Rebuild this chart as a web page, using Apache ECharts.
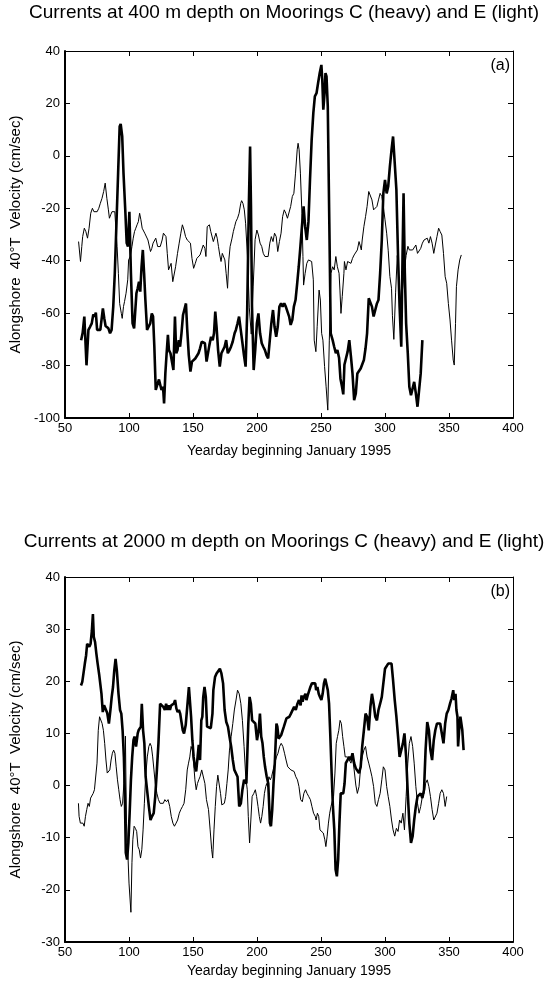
<!DOCTYPE html>
<html>
<head>
<meta charset="utf-8">
<script src="https://cdn.jsdelivr.net/npm/echarts@6/dist/echarts.min.js"></script>
<style>
  html, body { margin: 0; padding: 0; background: #fff; }
  #chart { width: 546px; height: 981px; }
</style>
</head>
<body>
<div id="chart"></div>
<script>
// Yearday axis shared by both panels
const dayMin = 50, dayMax = 400, dayStep = 50;

// Panel (a): 400 m depth, alongshore 40°T velocity (cm/sec), [yearday, value]
const moorC400 = [
  [62.6,-70.3],[63.8,-67.5],[65.1,-61.3],[65.8,-60.8],[66.8,-79.9],[68.3,-66.4],[69.6,-65.2],[70.9,-63.9],
  [72.1,-60.5],[73.1,-61.3],[74.1,-59.8],[75.1,-66.4],[76.4,-67.1],[77.6,-66.4],[78.9,-67.1],[79.6,-58.2],
  [80.7,-62.0],[81.7,-64.9],[82.7,-64.5],[83.9,-65.8],[85.2,-67.7],[86.4,-66.4],[87.7,-57.5],[88.9,-44.8],
  [90.2,-25.7],[91.5,-6.6],[92.7,11.2],[93.5,12.2],[94.7,7.4],[95.7,-6.6],[97.2,-21.9],[98.2,-33.3],
  [99.2,-34.6],[100.3,-21.3],[101.5,-44.8],[102.8,-63.9],[104.0,-65.8],[104.8,-65.2],[105.8,-52.4],[106.8,-50.5],
  [107.8,-48.0],[108.8,-51.8],[109.8,-42.3],[110.8,-35.9],[111.8,-44.8],[112.8,-55.0],[114.1,-66.4],[115.3,-65.2],
  [116.6,-63.9],[117.8,-60.1],[118.8,-61.3],[119.8,-72.8],[120.9,-89.3],[122.4,-89.3],[123.4,-85.3],[124.4,-85.3],
  [125.4,-89.3],[126.6,-88.1],[127.4,-94.4],[128.4,-83.0],[129.4,-75.3],[130.4,-68.3],[131.2,-74.1],[132.4,-75.3],
  [133.4,-74.7],[134.7,-81.7],[135.9,-61.3],[136.9,-75.3],[137.9,-74.1],[138.9,-70.3],[139.9,-72.8],[141.0,-67.7],
  [142.2,-60.7],[143.5,-60.1],[144.5,-56.3],[145.5,-66.4],[146.7,-76.0],[148.0,-82.3],[149.2,-78.5],[150.5,-78.5],
  [151.8,-77.3],[153.0,-76.6],[154.3,-75.3],[155.5,-73.4],[156.8,-70.9],[158.0,-70.6],[159.3,-71.5],[160.6,-78.5],
  [162.8,-72.2],[164.1,-69.0],[165.4,-70.3],[166.4,-67.7],[167.4,-59.4],[168.4,-65.2],[169.6,-74.1],[170.9,-80.4],
  [172.2,-75.3],[173.4,-74.7],[174.7,-72.8],[175.9,-70.3],[177.2,-75.3],[178.5,-74.1],[179.7,-72.8],[181.0,-70.9],
  [182.5,-67.7],[183.5,-66.4],[184.8,-63.9],[186.0,-61.3],[187.3,-66.4],[188.5,-70.9],[189.8,-76.0],[191.1,-80.4],
  [192.3,-60.1],[193.6,-19.3],[194.6,3.6],[195.3,-19.3],[196.1,-57.5],[197.4,-81.7],[198.6,-74.1],[199.9,-63.9],
  [201.1,-60.1],[202.4,-67.7],[203.7,-71.5],[204.9,-72.8],[206.2,-74.1],[207.4,-76.0],[208.7,-77.3],[210.0,-70.3],
  [211.2,-63.9],[212.5,-58.8],[213.7,-65.2],[215.0,-69.0],[216.2,-65.2],[217.5,-57.5],[218.8,-56.3],[220.0,-57.5],
  [221.3,-56.3],[222.5,-57.5],[223.8,-58.2],[225.1,-61.3],[226.3,-64.5],[227.6,-62.6],[228.8,-57.5],[230.1,-55.0],
  [231.4,-48.6],[232.6,-42.3],[233.9,-34.6],[235.1,-27.0],[236.4,-19.3],[237.6,-27.0],[238.9,-32.1],[240.2,-25.1],
  [241.4,-9.2],[242.7,6.1],[244.0,16.3],[245.2,22.7],[246.5,23.9],[247.7,27.7],[249.0,31.6],[250.3,34.7],
  [251.0,29.0],[251.8,17.6],[252.8,23.9],[253.5,31.6],[254.3,30.3],[255.3,18.8],[256.5,-25.7],[257.6,-67.7],
  [259.1,-70.3],[260.3,-72.8],[261.6,-75.3],[262.8,-74.1],[264.1,-77.0],[265.2,-85.0],[266.4,-88.0],[267.4,-91.0],
  [268.3,-79.7],[269.5,-79.2],[270.8,-74.7],[272.1,-70.3],[273.4,-76.6],[274.6,-83.0],[275.9,-93.2],[277.2,-90.6],
  [278.4,-83.0],[279.7,-83.6],[281.0,-81.1],[282.2,-81.7],[283.5,-77.9],[284.8,-73.4],[286.0,-67.7],[287.3,-54.3],
  [288.6,-53.7],[289.8,-57.5],[291.1,-61.3],[292.4,-58.8],[293.7,-56.3],[294.9,-55.0],[296.2,-44.8],[297.5,-32.1],
  [298.7,-14.3],[300.0,-9.2],[301.3,-14.3],[302.5,-11.7],[303.8,-4.1],[305.1,2.3],[306.3,7.4],[307.6,6.7],
  [308.9,-13.0],[310.2,-38.4],[311.4,-57.5],[312.7,-72.8],[313.7,-38.4],[314.5,-14.3],[315.5,-44.8],[316.5,-63.9],
  [317.8,-75.3],[319.0,-88.1],[320.3,-91.3],[321.6,-91.9],[322.8,-86.2],[324.1,-90.6],[325.4,-95.7],[326.6,-95.1],
  [327.9,-83.0],[329.2,-70.3]
];
const moorE400 = [
  [60.6,-32.7],[62.1,-40.3],[63.1,-34.6],[63.8,-30.8],[65.1,-27.6],[66.3,-28.9],[67.6,-31.4],[68.8,-27.6],
  [70.1,-21.9],[71.4,-20.0],[72.6,-21.3],[73.9,-20.6],[75.1,-21.3],[76.4,-20.0],[77.6,-18.1],[78.9,-16.2],
  [80.2,-13.6],[81.4,-10.4],[82.7,-16.2],[83.9,-20.6],[84.7,-23.8],[85.7,-22.5],[86.7,-21.3],[87.7,-21.9],
  [88.9,-21.3],[89.7,-21.9],[90.7,-34.6],[91.7,-44.8],[92.7,-56.3],[94.0,-60.1],[94.7,-62.0],[95.7,-57.5],
  [96.5,-55.6],[97.7,-52.4],[99.0,-47.3],[99.7,-39.7],[101.0,-38.4],[102.3,-34.6],[103.3,-31.4],[104.3,-28.9],
  [105.3,-27.6],[106.3,-26.3],[107.3,-25.1],[108.3,-21.9],[109.3,-24.4],[110.3,-27.6],[111.6,-27.0],[112.3,-29.5],
  [113.3,-30.2],[114.8,-32.1],[115.8,-31.4],[116.8,-36.5],[117.8,-35.3],[118.8,-33.3],[119.8,-32.7],[120.9,-31.4],
  [122.4,-34.6],[123.4,-34.0],[124.4,-34.6],[125.9,-32.1],[126.9,-29.5],[127.9,-28.9],[128.9,-30.8],[129.9,-37.2],
  [130.9,-43.5],[131.9,-43.5],[132.9,-41.0],[134.2,-48.0],[135.4,-47.3],[136.4,-42.3],[137.9,-37.2],[139.2,-33.3],
  [140.5,-29.5],[141.7,-26.3],[143.0,-28.3],[144.2,-30.8],[145.5,-32.1],[146.7,-31.4],[148.0,-33.3],[149.2,-39.1],
  [150.5,-42.9],[151.8,-41.0],[153.0,-39.1],[154.3,-38.4],[155.5,-37.8],[156.8,-37.2],[158.0,-34.0],[159.3,-35.3],
  [160.1,-38.4],[161.1,-27.0],[162.8,-26.3],[163.9,-28.9],[164.9,-29.5],[165.9,-32.7],[166.9,-33.3],[167.9,-29.5],
  [168.9,-31.4],[169.9,-34.6],[170.9,-37.8],[171.9,-40.3],[172.9,-37.2],[173.9,-37.2],[174.9,-39.7],[175.9,-44.8],
  [177.0,-50.5],[178.0,-39.7],[179.0,-34.6],[180.5,-31.4],[181.5,-28.9],[182.5,-27.0],[183.5,-25.1],[184.8,-23.8],
  [186.0,-21.9],[187.3,-18.1],[188.0,-17.1],[189.0,-18.1],[190.1,-20.6],[191.1,-25.7],[192.5,-38.0],[194.0,-58.0],
  [195.5,-68.0],[197.0,-50.0],[198.5,-32.0],[199.9,-28.3],[201.1,-30.2],[202.4,-33.3],[203.7,-34.6],[204.9,-37.2],
  [206.2,-38.4],[207.4,-38.4],[208.7,-38.4],[210.0,-33.3],[211.2,-30.8],[212.5,-32.7],[213.7,-29.5],[215.0,-30.8],
  [216.2,-36.5],[217.5,-32.7],[218.8,-29.5],[220.0,-23.2],[221.3,-20.6],[222.5,-21.9],[223.8,-23.8],[225.1,-23.2],
  [226.3,-19.3],[227.6,-15.5],[228.8,-14.3],[230.1,-6.6],[231.4,2.3],[232.1,4.8],[232.9,2.3],[233.9,-6.6],
  [235.1,-21.9],[235.9,-38.4],[236.4,-49.3],[237.6,-44.8],[238.9,-41.0],[240.2,-39.7],[241.4,-39.1],[242.7,-40.3],
  [244.0,-47.3],[244.7,-70.3],[246.0,-74.7],[247.0,-65.2],[248.5,-51.2],[249.5,-55.0],[250.5,-67.7],[251.5,-70.3],
  [252.8,-80.4],[254.0,-88.1],[255.3,-97.0],[256.5,-70.3],[257.8,-44.8],[259.1,-42.3],[260.3,-43.5],[261.6,-38.4],
  [262.8,-42.3],[264.1,-44.8],[264.8,-51.2],[265.6,-60.1],[266.6,-53.7],[267.9,-44.8],[268.3,-40.3],[269.5,-43.5],
  [270.8,-40.3],[272.1,-39.7],[273.4,-41.0],[274.6,-39.1],[275.9,-37.8],[277.2,-37.2],[278.4,-35.9],[279.7,-32.7],
  [280.5,-34.0],[281.5,-35.9],[282.2,-32.1],[283.5,-27.0],[284.8,-23.2],[286.0,-19.3],[287.3,-13.6],[288.6,-13.0],
  [289.8,-16.8],[291.1,-20.6],[292.4,-21.3],[293.7,-19.3],[294.9,-16.8],[296.2,-14.3],[297.5,-15.5],[298.7,-19.3],
  [300.0,-24.4],[301.3,-29.5],[302.5,-36.0],[303.8,-46.0],[305.1,-50.5],[305.8,-61.0],[306.9,-70.0],[308.3,-52.0],
  [309.6,-38.0],[310.9,-48.0],[312.2,-56.0],[313.5,-52.0],[315.0,-44.0],[316.5,-38.0],[317.9,-34.5],[319.0,-35.9],
  [320.3,-35.3],[321.6,-35.9],[322.8,-35.3],[324.1,-34.0],[325.4,-37.2],[326.6,-37.8],[327.9,-35.3],[329.2,-33.3],
  [330.5,-32.1],[331.7,-32.7],[333.0,-31.4],[334.3,-33.3],[335.5,-30.8],[336.8,-33.3],[338.1,-37.2],[339.3,-34.0],
  [340.6,-30.8],[341.9,-27.6],[343.1,-28.9],[344.4,-30.2],[345.7,-37.2],[347.0,-46.1],[348.2,-48.6],[349.5,-56.3],
  [350.8,-62.6],[352.0,-70.3],[353.3,-77.9],[354.1,-79.8],[355.1,-63.9],[355.8,-49.9],[357.1,-43.5],[358.4,-39.7],
  [359.6,-37.8]
];

// Panel (b): 2000 m depth, [yearday, value]
const moorC2000 = [
  [62.5,19.2],[63.5,19.9],[64.5,20.2],[65.5,23.4],[66.5,25.0],[67.3,27.2],[68.0,26.9],[69.0,26.6],
  [70.0,27.2],[71.0,29.7],[71.8,32.9],[72.5,28.5],[73.5,27.5],[74.5,25.3],[75.5,23.4],[76.8,21.1],
  [77.5,20.8],[78.5,17.6],[79.5,14.1],[80.5,15.4],[81.8,15.1],[83.0,13.9],[84.3,11.9],[85.5,14.5],
  [86.5,17.0],[87.5,18.9],[88.5,22.1],[89.5,24.3],[90.5,22.1],[91.8,17.6],[93.0,14.5],[94.0,13.8],
  [95.0,10.6],[96.0,5.5],[96.8,-2.1],[97.5,-12.9],[98.5,-14.2],[99.5,-11.0],[100.5,-5.3],[101.5,1.1],
  [102.5,5.5],[103.5,8.7],[104.3,9.4],[105.5,7.5],[106.8,10.0],[107.5,10.6],[108.5,10.3],[109.3,11.3],
  [110.0,15.7],[111.0,10.6],[112.0,8.1],[113.0,1.7],[114.3,2.0],[115.5,-4.0],[116.8,-6.6],[118.0,-5.9],
  [119.3,-5.3],[120.5,-2.1],[121.8,3.0],[123.0,8.1],[124.3,15.7],[125.5,15.7],[126.8,15.1],[128.0,14.5],
  [129.0,15.7],[130.0,14.5],[131.0,15.4],[132.0,14.5],[133.0,15.4],[134.0,15.1],[135.0,15.7],[136.0,16.4],
  [137.0,14.8],[138.0,14.1],[139.0,14.5],[140.0,13.8],[141.0,12.2],[142.0,10.6],[143.0,10.0],[144.3,11.6],
  [145.5,11.9],[146.8,18.9],[147.5,18.6],[148.5,13.2],[149.5,8.7],[150.5,5.5],[151.5,3.6],[152.5,2.7],
  [153.5,3.0],[154.5,7.8],[155.5,4.9],[156.5,12.5],[157.3,13.2],[158.0,17.0],[159.0,18.9],[160.0,17.0],
  [161.0,11.3],[162.0,11.3],[163.9,11.0],[165.2,13.8],[165.9,18.3],[167.2,20.8],[168.4,21.5],[169.7,21.8],
  [171.0,22.4],[172.2,21.5],[173.5,19.6],[174.7,14.5],[176.0,12.2],[177.3,11.3],[178.5,9.4],[179.8,7.5],
  [181.1,4.9],[182.3,3.0],[183.6,3.0],[184.8,1.7],[186.1,-4.0],[187.4,-3.4],[188.6,-0.8],[189.9,1.1],
  [190.7,1.4],[191.7,0.4],[193.2,11.9],[194.2,17.0],[195.2,15.7],[196.2,12.5],[197.5,12.2],[198.7,11.9],
  [200.0,8.7],[201.3,10.6],[202.3,13.8],[203.3,9.4],[204.3,8.1],[205.3,5.5],[206.3,3.6],[207.6,1.7],
  [208.8,0.4],[210.1,-7.2],[210.9,-7.8],[211.9,-4.6],[212.9,0.4],[213.9,4.3],[215.2,11.9],[215.9,11.3],
  [216.9,9.0],[217.9,8.7],[218.9,9.7],[219.9,9.4],[221.0,11.3],[222.0,11.0],[223.0,12.9],[224.0,13.2],
  [225.3,13.2],[226.5,13.8],[227.8,14.1],[229.0,15.1],[230.3,14.5],[231.6,15.7],[232.8,16.4],[234.1,15.4],
  [234.8,17.3],[235.6,16.1],[236.6,17.0],[237.9,17.6],[238.6,16.4],[239.6,17.3],[240.7,17.6],[241.7,18.9],
  [242.9,19.6],[244.2,19.9],[245.5,19.6],[246.2,18.3],[247.2,18.9],[248.2,17.6],[249.2,17.0],[250.3,16.4],
  [251.3,17.6],[252.3,19.6],[253.3,20.5],[254.3,20.2],[255.3,18.3],[256.3,15.7],[257.3,9.4],[258.3,2.4],
  [259.3,-4.0],[260.4,-8.5],[261.4,-16.1],[262.4,-17.4],[263.4,-14.2],[264.4,-7.2],[265.4,-1.5],[266.4,-1.8],
  [267.4,-1.5],[268.4,0.4],[269.4,4.3],[270.8,4.3],[272.1,5.5],[273.4,4.9],[274.6,6.2],[275.9,4.3],
  [277.2,3.3],[278.4,3.0],[279.7,2.4],[281.0,3.6],[282.2,7.5],[283.5,10.6],[284.8,13.8],[286.0,13.2],
  [287.3,10.6],[288.6,15.1],[289.8,17.6],[291.1,15.7],[292.4,13.2],[293.7,12.5],[294.9,14.5],[296.2,15.7],
  [297.5,17.0],[298.7,17.0],[300.0,22.4],[301.3,22.7],[302.5,23.4],[303.8,23.7],[305.1,23.4],[306.3,20.2],
  [307.6,16.4],[308.9,13.2],[310.2,9.4],[311.4,5.5],[312.7,5.5],[314.0,8.1],[315.2,10.0],[316.5,5.5],
  [317.8,-1.5],[319.0,-7.2],[320.3,-11.0],[321.6,-9.7],[322.8,-6.6],[324.1,-4.0],[325.4,-2.1],[326.6,-2.1],
  [327.9,-1.5],[329.2,-2.4],[330.5,-0.8],[331.7,6.8],[333.0,12.2],[334.3,10.6],[335.5,6.8],[336.8,4.9],
  [338.1,8.7],[339.3,10.6],[340.6,11.9],[341.9,12.2],[343.1,11.9],[344.4,10.0],[345.7,8.1],[347.0,11.9],
  [348.2,13.8],[349.5,14.5],[350.8,15.7],[352.0,16.7],[353.3,18.3],[354.1,16.4],[355.1,17.6],[355.8,14.5],
  [356.6,13.2],[357.1,7.5],[357.9,10.6],[358.9,13.2],[359.6,13.5],[360.4,10.6],[361.4,6.8]
];
const moorE2000 = [
  [60.5,-3.4],[61.0,-5.9],[62.0,-7.2],[63.0,-6.9],[64.0,-7.2],[65.0,-7.8],[66.0,-5.9],[67.0,-4.6],
  [68.0,-3.4],[69.0,-4.0],[70.0,-2.4],[71.0,-2.1],[72.0,-1.5],[73.0,-0.8],[74.0,-0.8],[75.0,4.3],
  [76.0,10.6],[77.0,13.2],[78.0,12.9],[79.0,11.9],[80.0,10.6],[81.0,8.1],[82.0,4.9],[83.0,2.4],
  [84.0,2.4],[85.0,3.0],[86.0,4.9],[87.0,6.2],[88.0,6.8],[89.0,6.2],[90.0,3.6],[91.0,1.1],
  [92.0,-0.8],[93.0,-2.7],[94.0,-4.0],[95.0,-3.4],[96.0,0.4],[96.8,4.3],[97.2,9.5],[98.0,-7.2],
  [99.0,-12.3],[100.0,-18.7],[101.5,-24.3],[102.3,-14.8],[103.0,-10.4],[104.0,-7.8],[105.0,-8.2],[106.0,-8.8],
  [107.0,-11.7],[108.0,-12.3],[109.0,-13.9],[110.0,-12.3],[111.0,-8.5],[112.0,-3.4],[113.0,1.7],[114.3,5.5],
  [115.5,7.5],[116.5,8.1],[117.5,7.5],[118.5,5.5],[119.5,3.0],[120.5,0.4],[121.8,-1.5],[123.0,-2.7],
  [124.3,-3.4],[125.5,-3.4],[126.8,-3.4],[128.0,-2.7],[129.3,-3.1],[130.5,-2.7],[131.8,-4.0],[133.0,-5.9],
  [134.3,-7.2],[135.5,-7.8],[136.8,-7.2],[138.0,-6.6],[139.3,-5.3],[140.5,-4.6],[141.8,-4.0],[143.0,-3.4],
  [144.3,-0.8],[145.5,3.0],[146.5,4.3],[147.5,5.5],[148.5,7.5],[149.5,6.8],[150.5,4.3],[151.5,1.1],
  [152.5,-0.8],[153.5,0.4],[154.5,1.1],[155.5,1.7],[156.8,3.0],[158.0,3.0],[159.3,0.4],[160.5,-2.7],
  [162.1,-4.6],[163.4,-8.5],[164.6,-12.3],[165.4,-13.9],[166.4,-8.5],[167.4,-4.0],[168.4,-0.2],[169.4,2.0],
  [170.5,1.7],[171.5,-1.5],[172.5,-3.7],[173.5,-4.0],[174.5,-3.4],[175.5,-2.1],[176.5,0.4],[177.5,3.0],
  [178.5,6.8],[179.8,9.4],[181.1,11.9],[182.3,14.5],[183.6,16.4],[184.8,18.3],[186.1,17.6],[187.4,15.7],
  [188.6,12.5],[189.9,7.5],[191.2,1.7],[192.4,-0.8],[193.2,-5.9],[194.2,-11.0],[195.2,-6.6],[196.2,-2.1],
  [197.5,-1.5],[198.7,-0.8],[199.7,-2.1],[200.8,-4.0],[201.8,-5.9],[202.8,-7.2],[203.8,-5.9],[204.8,-4.0],
  [205.8,-1.5],[206.8,-0.2],[207.6,0.4],[208.3,-0.2],[209.3,1.7],[210.4,1.1],[211.4,1.7],[212.6,3.0],
  [213.9,4.3],[215.2,5.5],[216.4,6.2],[217.7,7.5],[218.9,8.1],[220.2,7.5],[221.5,6.2],[222.7,4.9],
  [224.0,3.6],[225.3,3.6],[226.5,3.0],[227.8,3.3],[229.0,2.7],[230.3,1.7],[231.6,1.1],[232.8,-0.2],
  [234.1,-2.7],[235.4,-3.1],[236.6,-1.5],[237.9,-0.8],[239.1,-1.5],[240.4,-2.1],[241.7,-2.7],[242.9,-4.0],
  [244.2,-5.3],[245.5,-5.9],[246.2,-6.6],[247.2,-5.3],[248.2,-5.9],[249.2,-8.5],[250.5,-8.8],[251.8,-9.1],
  [253.0,-10.4],[253.8,-11.7],[254.8,-9.7],[255.8,-7.2],[256.8,-5.3],[257.8,-4.0],[258.8,-4.0],[259.8,-2.1],
  [260.9,2.4],[261.9,8.1],[262.9,9.4],[263.9,10.6],[264.9,12.5],[265.9,11.9],[266.9,9.4],[267.9,7.5],
  [268.9,5.5],[270.8,5.5],[272.1,4.9],[273.4,4.3],[274.6,5.5],[275.9,3.0],[277.2,0.1],[278.4,-1.5],
  [279.7,-0.2],[281.0,3.6],[282.2,5.5],[283.5,6.8],[284.8,7.5],[286.0,5.5],[287.3,4.3],[288.6,3.0],
  [289.8,1.7],[291.1,-0.2],[292.4,-3.4],[293.7,-4.0],[294.9,-2.7],[296.2,-1.5],[297.5,1.1],[298.7,3.6],
  [300.0,3.0],[301.3,-0.2],[302.5,-2.1],[303.8,-4.0],[305.1,-6.6],[306.3,-8.5],[307.6,-9.7],[308.9,-8.2],
  [310.2,-8.8],[311.4,-6.6],[312.7,-7.2],[314.0,-5.3],[315.2,-8.5],[316.5,-2.1],[317.8,4.3],[319.0,8.1],
  [320.3,9.4],[321.6,7.5],[322.8,4.3],[324.1,-0.2],[325.4,-3.4],[326.6,-5.3],[327.9,-4.0],[329.2,-2.1],
  [330.5,-1.5],[331.7,0.4],[333.0,1.1],[334.3,-0.2],[335.5,-2.1],[336.8,-4.6],[338.1,-6.6],[339.3,-6.6],
  [340.6,-5.3],[341.9,-3.4],[343.1,-1.5],[344.4,-0.8],[345.7,-1.5],[347.0,-4.0],[348.2,-2.1]
];

// Panel texts
const panelTitles = [
  'Currents at 400 m depth on Moorings C (heavy) and E (light)',
  'Currents at 2000 m depth on Moorings C (heavy) and E (light)'
];
const panelTags = ['(a)', '(b)'];
const xTitle = 'Yearday beginning January 1995';
const yTitle = 'Alongshore  40°T  Velocity (cm/sec)';
const yRanges = [[-100, 40, 20], [-30, 40, 10]];

const FONT = "'Liberation Sans', Arial, Helvetica, sans-serif";
const BLACK = '#000';

// Plot boxes (pixels)
const boxLeft = 58, boxWidth = 455;
const boxes = [{ top: 51, height: 367 }, { top: 577, height: 365 }];

const grids = boxes.map(b => ({ left: boxLeft, width: boxWidth, top: b.top, height: b.height, containLabel: false }));

const xAxes = [];
const yAxes = [];
boxes.forEach((b, i) => {
  // bottom axis with labels
  xAxes.push({
    gridIndex: i, type: 'value', position: 'bottom', min: dayMin, max: dayMax, interval: dayStep,
    axisLine: { onZero: false, lineStyle: { color: BLACK, width: 2 } },
    axisTick: { inside: true, length: 5, lineStyle: { color: BLACK, width: 1 } },
    axisLabel: { color: BLACK, fontSize: 13, fontFamily: FONT, margin: 4 },
    splitLine: { show: false },
    name: xTitle, nameLocation: 'middle', nameGap: i === 0 ? 26 : 22,
    nameTextStyle: { color: BLACK, fontSize: 14, fontFamily: FONT }
  });
  // top frame edge
  xAxes.push({
    gridIndex: i, type: 'value', position: 'top', min: dayMin, max: dayMax, interval: dayStep,
    axisLine: { onZero: false, lineStyle: { color: BLACK, width: 1 } },
    axisTick: { inside: true, length: 5, lineStyle: { color: BLACK, width: 1 } },
    axisLabel: { show: false }, splitLine: { show: false }
  });
  const [yMin, yMax, yStep] = yRanges[i];
  yAxes.push({
    gridIndex: i, type: 'value', position: 'left', min: yMin, max: yMax, interval: yStep,
    axisLine: { onZero: false, lineStyle: { color: BLACK, width: 2 } },
    axisTick: { inside: true, length: 5, lineStyle: { color: BLACK, width: 1 } },
    axisLabel: { color: BLACK, fontSize: 13, fontFamily: FONT, margin: 5 },
    splitLine: { show: false },
    name: yTitle, nameLocation: 'middle', nameGap: 42, nameRotate: 90,
    nameTextStyle: { color: BLACK, fontSize: 15, fontFamily: FONT }
  });
  // right frame edge
  yAxes.push({
    gridIndex: i, type: 'value', position: 'right', min: yMin, max: yMax, interval: yStep,
    axisLine: { onZero: false, lineStyle: { color: BLACK, width: 1 } },
    axisTick: { inside: true, length: 5, lineStyle: { color: BLACK, width: 1 } },
    axisLabel: { show: false }, splitLine: { show: false }
  });
});

function lineSeries(data, gridIdx, width) {
  return {
    type: 'line', data: data,
    xAxisIndex: gridIdx * 2, yAxisIndex: gridIdx * 2,
    showSymbol: false, symbol: 'none', smooth: false, clip: true,
    lineStyle: { color: BLACK, width: width },
    itemStyle: { color: BLACK },
    emphasis: { disabled: true }
  };
}

const option = {
  backgroundColor: '#fff',
  animation: false,
  title: panelTitles.map((t, i) => ({
    text: t, left: 284, top: i === 0 ? 3 : 532, textAlign: 'center', padding: 0,
    textStyle: { color: BLACK, fontSize: 19, fontWeight: 'normal', fontFamily: FONT }
  })),
  grid: grids,
  xAxis: xAxes,
  yAxis: yAxes,
  series: [
    lineSeries(moorE400, 0, 1),
    lineSeries(moorC400, 0, 2.6),
    lineSeries(moorE2000, 1, 1),
    lineSeries(moorC2000, 1, 2.6)
  ],
  graphic: panelTags.map((t, i) => ({
    type: 'text', right: 546 - (boxLeft + boxWidth) + 3, top: boxes[i].top + 7,
    style: { text: t, fill: BLACK, fontSize: 16, fontFamily: FONT }
  }))
};

const chart = echarts.init(document.getElementById('chart'), null, { renderer: 'canvas' });
chart.setOption(option);
</script>
</body>
</html>
